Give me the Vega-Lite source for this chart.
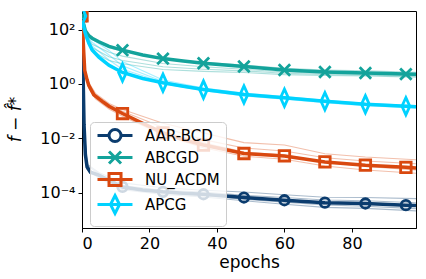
{
  "$schema": "https://vega.github.io/schema/vega-lite/v6.json",
  "width": 334,
  "height": 217,
  "autosize": {"type": "none"},
  "padding": {"left": 82, "top": 11, "right": 10, "bottom": 51},
  "background": "white",
  "config": {
    "font": "DejaVu Sans",
    "view": {"stroke": "black", "strokeWidth": 1},
    "axis": {"domainColor": "black", "tickColor": "black", "labelColor": "black", "titleColor": "black", "grid": false, "labelFont": "DejaVu Sans", "titleFont": "DejaVu Sans", "labelFontSize": 16, "titleFontSize": 17, "titleFontWeight": "normal", "tickSize": 4, "domainWidth": 1, "tickWidth": 1},
    "legend": {"orient": "none", "legendX": 8, "legendY": 111, "fillColor": "rgba(255,255,255,0.8)", "strokeColor": "#cccccc", "cornerRadius": 4, "padding": 6, "labelFont": "DejaVu Sans", "labelFontSize": 15, "labelColor": "black", "labelOffset": 34, "rowPadding": -3, "symbolStrokeWidth": 3, "symbolSize": 144, "symbolFillColor": "transparent"}
  },
  "datasets": {
    "m": [
      {"s":"AAR-BCD","x":0,"y":316},{"s":"AAR-BCD","x":0.3,"y":3.16},{"s":"AAR-BCD","x":0.6,"y":0.0316},{"s":"AAR-BCD","x":1,"y":0.00251},{"s":"AAR-BCD","x":1.5,"y":0.000891},{"s":"AAR-BCD","x":2.5,"y":0.000562},{"s":"AAR-BCD","x":5,"y":0.000437},{"s":"AAR-BCD","x":8,"y":0.000282},{"s":"AAR-BCD","x":12,"y":0.000162},{"s":"AAR-BCD","x":18,"y":0.000126},{"s":"AAR-BCD","x":24,"y":0.000107},{"s":"AAR-BCD","x":30,"y":9.55e-5},{"s":"AAR-BCD","x":36,"y":8.71e-5},{"s":"AAR-BCD","x":48,"y":6.61e-5},{"s":"AAR-BCD","x":60,"y":5.25e-5},{"s":"AAR-BCD","x":72,"y":4.27e-5},{"s":"AAR-BCD","x":84,"y":3.98e-5},{"s":"AAR-BCD","x":96,"y":3.47e-5},{"s":"AAR-BCD","x":99,"y":3.39e-5},
      {"s":"ABCGD","x":0,"y":316},{"s":"ABCGD","x":0.5,"y":158},{"s":"ABCGD","x":1,"y":89.1},{"s":"ABCGD","x":2,"y":60.3},{"s":"ABCGD","x":3,"y":47.9},{"s":"ABCGD","x":5,"y":35.5},{"s":"ABCGD","x":8,"y":24.0},{"s":"ABCGD","x":12,"y":17.4},{"s":"ABCGD","x":18,"y":11.5},{"s":"ABCGD","x":24,"y":8.51},{"s":"ABCGD","x":30,"y":6.92},{"s":"ABCGD","x":36,"y":5.75},{"s":"ABCGD","x":48,"y":4.37},{"s":"ABCGD","x":60,"y":3.24},{"s":"ABCGD","x":72,"y":2.75},{"s":"ABCGD","x":84,"y":2.51},{"s":"ABCGD","x":96,"y":2.29},{"s":"ABCGD","x":99,"y":2.24},
      {"s":"NU_ACDM","x":0,"y":316},{"s":"NU_ACDM","x":0.5,"y":15.8},{"s":"NU_ACDM","x":0.8,"y":3.16},{"s":"NU_ACDM","x":1.5,"y":1.41},{"s":"NU_ACDM","x":2,"y":0.891},{"s":"NU_ACDM","x":3.5,"y":0.398},{"s":"NU_ACDM","x":6,"y":0.229},{"s":"NU_ACDM","x":8,"y":0.151},{"s":"NU_ACDM","x":12,"y":0.0813},{"s":"NU_ACDM","x":18,"y":0.0355},{"s":"NU_ACDM","x":24,"y":0.0158},{"s":"NU_ACDM","x":30,"y":0.00891},{"s":"NU_ACDM","x":36,"y":0.00562},{"s":"NU_ACDM","x":48,"y":0.00275},{"s":"NU_ACDM","x":60,"y":0.00224},{"s":"NU_ACDM","x":72,"y":0.00135},{"s":"NU_ACDM","x":84,"y":0.00102},{"s":"NU_ACDM","x":96,"y":0.000851},{"s":"NU_ACDM","x":99,"y":0.000813},
      {"s":"APCG","x":0,"y":316},{"s":"APCG","x":0.5,"y":126},{"s":"APCG","x":1,"y":70.8},{"s":"APCG","x":2,"y":31.6},{"s":"APCG","x":3,"y":17.8},{"s":"APCG","x":5,"y":9.55},{"s":"APCG","x":8,"y":4.79},{"s":"APCG","x":12,"y":2.63},{"s":"APCG","x":18,"y":1.58},{"s":"APCG","x":24,"y":1.10},{"s":"APCG","x":30,"y":0.813},{"s":"APCG","x":36,"y":0.617},{"s":"APCG","x":48,"y":0.407},{"s":"APCG","x":60,"y":0.309},{"s":"APCG","x":72,"y":0.229},{"s":"APCG","x":84,"y":0.178},{"s":"APCG","x":96,"y":0.151},{"s":"APCG","x":99,"y":0.145}
    ],
    "runs": [
      {"s":"ABCGD","r":"t1","x":0,"y":316},{"s":"ABCGD","r":"t1","x":1,"y":83.2},{"s":"ABCGD","r":"t1","x":3,"y":42.7},{"s":"ABCGD","r":"t1","x":8,"y":21.4},{"s":"ABCGD","r":"t1","x":12,"y":15.8},{"s":"ABCGD","r":"t1","x":24,"y":8.51},{"s":"ABCGD","r":"t1","x":36,"y":6.17},{"s":"ABCGD","r":"t1","x":48,"y":4.90},{"s":"ABCGD","r":"t1","x":60,"y":3.72},{"s":"ABCGD","r":"t1","x":72,"y":3.24},{"s":"ABCGD","r":"t1","x":84,"y":3.02},{"s":"ABCGD","r":"t1","x":99,"y":2.69},
      {"s":"ABCGD","r":"t2","x":0,"y":316},{"s":"ABCGD","r":"t2","x":1,"y":67.6},{"s":"ABCGD","r":"t2","x":3,"y":28.8},{"s":"ABCGD","r":"t2","x":8,"y":14.5},{"s":"ABCGD","r":"t2","x":12,"y":10.5},{"s":"ABCGD","r":"t2","x":24,"y":5.62},{"s":"ABCGD","r":"t2","x":36,"y":4.27},{"s":"ABCGD","r":"t2","x":48,"y":3.47},{"s":"ABCGD","r":"t2","x":60,"y":2.75},{"s":"ABCGD","r":"t2","x":72,"y":2.45},{"s":"ABCGD","r":"t2","x":84,"y":2.29},{"s":"ABCGD","r":"t2","x":99,"y":2.04},
      {"s":"ABCGD","r":"t3","x":0,"y":316},{"s":"ABCGD","r":"t3","x":1,"y":58.9},{"s":"ABCGD","r":"t3","x":3,"y":21.4},{"s":"ABCGD","r":"t3","x":8,"y":10.0},{"s":"ABCGD","r":"t3","x":12,"y":7.24},{"s":"ABCGD","r":"t3","x":24,"y":4.27},{"s":"ABCGD","r":"t3","x":36,"y":3.47},{"s":"ABCGD","r":"t3","x":48,"y":3.02},{"s":"ABCGD","r":"t3","x":60,"y":2.45},{"s":"ABCGD","r":"t3","x":72,"y":2.24},{"s":"ABCGD","r":"t3","x":84,"y":2.09},{"s":"ABCGD","r":"t3","x":99,"y":1.91},
      {"s":"ABCGD","r":"t4","x":0,"y":316},{"s":"ABCGD","r":"t4","x":1,"y":50.1},{"s":"ABCGD","r":"t4","x":3,"y":15.8},{"s":"ABCGD","r":"t4","x":8,"y":7.24},{"s":"ABCGD","r":"t4","x":12,"y":5.50},{"s":"ABCGD","r":"t4","x":24,"y":3.39},{"s":"ABCGD","r":"t4","x":36,"y":2.88},{"s":"ABCGD","r":"t4","x":48,"y":2.63},{"s":"ABCGD","r":"t4","x":60,"y":2.19},{"s":"ABCGD","r":"t4","x":72,"y":2.04},{"s":"ABCGD","r":"t4","x":84,"y":1.95},{"s":"ABCGD","r":"t4","x":99,"y":1.78},
      {"s":"APCG","r":"c1","x":0,"y":316},{"s":"APCG","r":"c1","x":1,"y":79.4},{"s":"APCG","r":"c1","x":3,"y":44.7},{"s":"APCG","r":"c1","x":8,"y":17.0},{"s":"APCG","r":"c1","x":12,"y":6.61},{"s":"APCG","r":"c1","x":24,"y":1.38},{"s":"APCG","r":"c1","x":36,"y":0.708},{"s":"APCG","r":"c1","x":48,"y":0.457},{"s":"APCG","r":"c1","x":60,"y":0.339},{"s":"APCG","r":"c1","x":72,"y":0.251},{"s":"APCG","r":"c1","x":84,"y":0.195},{"s":"APCG","r":"c1","x":99,"y":0.158},
      {"s":"APCG","r":"c2","x":0,"y":316},{"s":"APCG","r":"c2","x":1,"y":75.9},{"s":"APCG","r":"c2","x":3,"y":33.9},{"s":"APCG","r":"c2","x":8,"y":11.5},{"s":"APCG","r":"c2","x":12,"y":4.68},{"s":"APCG","r":"c2","x":24,"y":1.23},{"s":"APCG","r":"c2","x":36,"y":0.661},{"s":"APCG","r":"c2","x":48,"y":0.427},{"s":"APCG","r":"c2","x":60,"y":0.324},{"s":"APCG","r":"c2","x":72,"y":0.240},{"s":"APCG","r":"c2","x":84,"y":0.186},{"s":"APCG","r":"c2","x":99,"y":0.151},
      {"s":"APCG","r":"c3","x":0,"y":316},{"s":"APCG","r":"c3","x":1,"y":74.1},{"s":"APCG","r":"c3","x":3,"y":25.1},{"s":"APCG","r":"c3","x":8,"y":7.59},{"s":"APCG","r":"c3","x":12,"y":3.47},{"s":"APCG","r":"c3","x":24,"y":1.15},{"s":"APCG","r":"c3","x":36,"y":0.617},{"s":"APCG","r":"c3","x":48,"y":0.398},{"s":"APCG","r":"c3","x":60,"y":0.295},{"s":"APCG","r":"c3","x":72,"y":0.219},{"s":"APCG","r":"c3","x":84,"y":0.170},{"s":"APCG","r":"c3","x":99,"y":0.138},
      {"s":"APCG","r":"c4","x":0,"y":316},{"s":"APCG","r":"c4","x":1,"y":70.8},{"s":"APCG","r":"c4","x":3,"y":20.0},{"s":"APCG","r":"c4","x":8,"y":5.37},{"s":"APCG","r":"c4","x":12,"y":2.63},{"s":"APCG","r":"c4","x":24,"y":1.02},{"s":"APCG","r":"c4","x":36,"y":0.562},{"s":"APCG","r":"c4","x":48,"y":0.363},{"s":"APCG","r":"c4","x":60,"y":0.275},{"s":"APCG","r":"c4","x":72,"y":0.204},{"s":"APCG","r":"c4","x":84,"y":0.158},{"s":"APCG","r":"c4","x":99,"y":0.129},
      {"s":"NU_ACDM","r":"o1","x":0,"y":316},{"s":"NU_ACDM","r":"o1","x":1,"y":3.16},{"s":"NU_ACDM","r":"o1","x":2,"y":1.12},{"s":"NU_ACDM","r":"o1","x":4,"y":0.447},{"s":"NU_ACDM","r":"o1","x":8,"y":0.191},{"s":"NU_ACDM","r":"o1","x":12,"y":0.115},{"s":"NU_ACDM","r":"o1","x":24,"y":0.0355},{"s":"NU_ACDM","r":"o1","x":36,"y":0.0158},{"s":"NU_ACDM","r":"o1","x":48,"y":0.00692},{"s":"NU_ACDM","r":"o1","x":60,"y":0.00562},{"s":"NU_ACDM","r":"o1","x":72,"y":0.00269},{"s":"NU_ACDM","r":"o1","x":84,"y":0.00204},{"s":"NU_ACDM","r":"o1","x":99,"y":0.00162},
      {"s":"NU_ACDM","r":"o2","x":0,"y":316},{"s":"NU_ACDM","r":"o2","x":1,"y":2.82},{"s":"NU_ACDM","r":"o2","x":2,"y":1.0},{"s":"NU_ACDM","r":"o2","x":4,"y":0.398},{"s":"NU_ACDM","r":"o2","x":8,"y":0.170},{"s":"NU_ACDM","r":"o2","x":12,"y":0.0977},{"s":"NU_ACDM","r":"o2","x":24,"y":0.0251},{"s":"NU_ACDM","r":"o2","x":36,"y":0.00891},{"s":"NU_ACDM","r":"o2","x":48,"y":0.00437},{"s":"NU_ACDM","r":"o2","x":60,"y":0.00339},{"s":"NU_ACDM","r":"o2","x":72,"y":0.00191},{"s":"NU_ACDM","r":"o2","x":84,"y":0.00145},{"s":"NU_ACDM","r":"o2","x":99,"y":0.00115},
      {"s":"NU_ACDM","r":"o3","x":0,"y":316},{"s":"NU_ACDM","r":"o3","x":1,"y":2.24},{"s":"NU_ACDM","r":"o3","x":2,"y":0.794},{"s":"NU_ACDM","r":"o3","x":4,"y":0.316},{"s":"NU_ACDM","r":"o3","x":8,"y":0.135},{"s":"NU_ACDM","r":"o3","x":12,"y":0.0759},{"s":"NU_ACDM","r":"o3","x":24,"y":0.0178},{"s":"NU_ACDM","r":"o3","x":36,"y":0.00676},{"s":"NU_ACDM","r":"o3","x":48,"y":0.00309},{"s":"NU_ACDM","r":"o3","x":60,"y":0.0024},{"s":"NU_ACDM","r":"o3","x":72,"y":0.00135},{"s":"NU_ACDM","r":"o3","x":84,"y":0.000912},{"s":"NU_ACDM","r":"o3","x":99,"y":0.000676},
      {"s":"NU_ACDM","r":"o4","x":0,"y":316},{"s":"NU_ACDM","r":"o4","x":1,"y":2.0},{"s":"NU_ACDM","r":"o4","x":2,"y":0.708},{"s":"NU_ACDM","r":"o4","x":4,"y":0.282},{"s":"NU_ACDM","r":"o4","x":8,"y":0.120},{"s":"NU_ACDM","r":"o4","x":12,"y":0.0646},{"s":"NU_ACDM","r":"o4","x":24,"y":0.0132},{"s":"NU_ACDM","r":"o4","x":36,"y":0.00447},{"s":"NU_ACDM","r":"o4","x":48,"y":0.00219},{"s":"NU_ACDM","r":"o4","x":60,"y":0.0017},{"s":"NU_ACDM","r":"o4","x":72,"y":0.000955},{"s":"NU_ACDM","r":"o4","x":84,"y":0.000676},{"s":"NU_ACDM","r":"o4","x":99,"y":0.000513},
      {"s":"AAR-BCD","r":"n1","x":0,"y":316},{"s":"AAR-BCD","r":"n1","x":0.6,"y":0.0316},{"s":"AAR-BCD","r":"n1","x":1.5,"y":0.00112},{"s":"AAR-BCD","r":"n1","x":5,"y":0.00055},{"s":"AAR-BCD","r":"n1","x":12,"y":0.000229},{"s":"AAR-BCD","r":"n1","x":24,"y":0.000151},{"s":"AAR-BCD","r":"n1","x":36,"y":0.000123},{"s":"AAR-BCD","r":"n1","x":48,"y":0.000105},{"s":"AAR-BCD","r":"n1","x":60,"y":8.32e-5},{"s":"AAR-BCD","r":"n1","x":72,"y":6.76e-5},{"s":"AAR-BCD","r":"n1","x":84,"y":6.61e-5},{"s":"AAR-BCD","r":"n1","x":99,"y":6.03e-5},
      {"s":"AAR-BCD","r":"n2","x":0,"y":316},{"s":"AAR-BCD","r":"n2","x":0.6,"y":0.0316},{"s":"AAR-BCD","r":"n2","x":1.5,"y":0.001},{"s":"AAR-BCD","r":"n2","x":5,"y":0.00049},{"s":"AAR-BCD","r":"n2","x":12,"y":0.000182},{"s":"AAR-BCD","r":"n2","x":24,"y":0.000123},{"s":"AAR-BCD","r":"n2","x":36,"y":0.000105},{"s":"AAR-BCD","r":"n2","x":48,"y":7.94e-5},{"s":"AAR-BCD","r":"n2","x":60,"y":6.61e-5},{"s":"AAR-BCD","r":"n2","x":72,"y":5.37e-5},{"s":"AAR-BCD","r":"n2","x":84,"y":5.01e-5},{"s":"AAR-BCD","r":"n2","x":99,"y":4.27e-5},
      {"s":"AAR-BCD","r":"n3","x":0,"y":316},{"s":"AAR-BCD","r":"n3","x":0.6,"y":0.0316},{"s":"AAR-BCD","r":"n3","x":1.5,"y":0.000794},{"s":"AAR-BCD","r":"n3","x":5,"y":0.000389},{"s":"AAR-BCD","r":"n3","x":12,"y":0.000145},{"s":"AAR-BCD","r":"n3","x":24,"y":9.55e-5},{"s":"AAR-BCD","r":"n3","x":36,"y":7.76e-5},{"s":"AAR-BCD","r":"n3","x":48,"y":5.75e-5},{"s":"AAR-BCD","r":"n3","x":60,"y":4.47e-5},{"s":"AAR-BCD","r":"n3","x":72,"y":3.55e-5},{"s":"AAR-BCD","r":"n3","x":84,"y":3.16e-5},{"s":"AAR-BCD","r":"n3","x":99,"y":2.57e-5},
      {"s":"AAR-BCD","r":"n4","x":0,"y":316},{"s":"AAR-BCD","r":"n4","x":0.6,"y":0.0316},{"s":"AAR-BCD","r":"n4","x":1.5,"y":0.000708},{"s":"AAR-BCD","r":"n4","x":5,"y":0.000347},{"s":"AAR-BCD","r":"n4","x":12,"y":0.000129},{"s":"AAR-BCD","r":"n4","x":24,"y":8.51e-5},{"s":"AAR-BCD","r":"n4","x":36,"y":6.92e-5},{"s":"AAR-BCD","r":"n4","x":48,"y":5.01e-5},{"s":"AAR-BCD","r":"n4","x":60,"y":3.72e-5},{"s":"AAR-BCD","r":"n4","x":72,"y":2.88e-5},{"s":"AAR-BCD","r":"n4","x":84,"y":2.63e-5},{"s":"AAR-BCD","r":"n4","x":99,"y":2.14e-5}
    ],
    "leg": [
      {"s":"AAR-BCD","x":-50,"y":1},{"s":"ABCGD","x":-50,"y":1},{"s":"NU_ACDM","x":-50,"y":1},{"s":"APCG","x":-50,"y":1}
    ]
  },
  "encoding": {
    "x": {"field": "x", "type": "quantitative", "scale": {"domain": [0, 99], "nice": false, "zero": false},
      "axis": {"values": [0, 20, 40, 60, 80], "title": "epochs", "labelPadding": 3, "titlePadding": 3}},
    "y": {"field": "y", "type": "quantitative", "scale": {"type": "log", "domain": [0.000005, 480], "nice": false},
      "axis": {"values": [0.0001, 0.01, 1, 100], "title": "f − f̂*", "titleFontStyle": "italic", "titleX": -58, "titleY": 108, "labelPadding": 3,
        "labelExpr": "datum.value >= 10 ? '10²' : datum.value >= 0.5 ? '10⁰' : datum.value >= 0.005 ? '10⁻²' : '10⁻⁴'"}}
  },
  "resolve": {"legend": {"color": "independent", "shape": "independent"}},
  "layer": [
    {"data": {"name": "runs"}, "mark": {"type": "line", "strokeWidth": 1.1, "opacity": 0.35, "clip": true},
      "encoding": {"detail": {"field": "r"}, "color": {"field": "s", "type": "nominal", "scale": {"domain": ["AAR-BCD", "ABCGD", "NU_ACDM", "APCG"], "range": ["#0b3c6e", "#13a39b", "#d9480f", "#00d2ff"]}, "legend": null}}},
    {"data": {"name": "m"}, "mark": {"type": "line", "strokeWidth": 3.5, "clip": true},
      "encoding": {"color": {"field": "s", "type": "nominal", "legend": null}}},
    {"data": {"name": "m"}, "transform": [{"filter": {"field": "s", "equal": "AAR-BCD"}}, {"filter": {"field": "x", "oneOf": [0, 12, 24, 36, 48, 60, 72, 84, 96]}}],
      "mark": {"type": "point", "shape": "circle", "size": 90, "filled": false, "strokeWidth": 2.8, "opacity": 1, "clip": true},
      "encoding": {"color": {"field": "s", "type": "nominal", "legend": null}}},
    {"data": {"name": "m"}, "transform": [{"filter": {"field": "s", "equal": "ABCGD"}}, {"filter": {"field": "x", "oneOf": [0, 12, 24, 36, 48, 60, 72, 84, 96]}}],
      "mark": {"type": "point", "shape": "M-1,-1L1,1M-1,1L1,-1", "size": 130, "filled": false, "strokeWidth": 2.8, "opacity": 1, "clip": true},
      "encoding": {"color": {"field": "s", "type": "nominal", "legend": null}}},
    {"data": {"name": "m"}, "transform": [{"filter": {"field": "s", "equal": "NU_ACDM"}}, {"filter": {"field": "x", "oneOf": [0, 12, 24, 36, 48, 60, 72, 84, 96]}}],
      "mark": {"type": "point", "shape": "square", "size": 110, "filled": false, "strokeWidth": 2.8, "opacity": 1, "clip": true},
      "encoding": {"color": {"field": "s", "type": "nominal", "legend": null}}},
    {"data": {"name": "m"}, "transform": [{"filter": {"field": "s", "equal": "APCG"}}, {"filter": {"field": "x", "oneOf": [0, 12, 24, 36, 48, 60, 72, 84, 96]}}],
      "mark": {"type": "point", "shape": "M0,-1L0.45,0L0,1L-0.45,0Z", "size": 300, "filled": false, "strokeWidth": 2.8, "opacity": 1, "clip": true},
      "encoding": {"color": {"field": "s", "type": "nominal", "legend": null}}},
    {"data": {"name": "leg"}, "mark": {"type": "point", "size": 144, "filled": false, "strokeWidth": 3, "opacity": 1, "clip": true},
      "encoding": {
        "color": {"field": "s", "type": "nominal", "legend": {"title": null}},
        "shape": {"field": "s", "type": "nominal", "legend": {"title": null},
          "scale": {"domain": ["AAR-BCD", "ABCGD", "NU_ACDM", "APCG"],
            "range": ["M-1,0H0.92M2.92,0H4.83M0.92,0A1,1,0,1,1,2.92,0A1,1,0,1,1,0.92,0Z",
                      "M-1,0H4.83M0.92,-1L2.92,1M0.92,1L2.92,-1",
                      "M-1,0H4.83M0.92,-1H2.92V1H0.92Z",
                      "M-1,0H4.83M1.92,-1.5L2.67,0L1.92,1.5L1.17,0Z"]}}
      }}
  ]
}
